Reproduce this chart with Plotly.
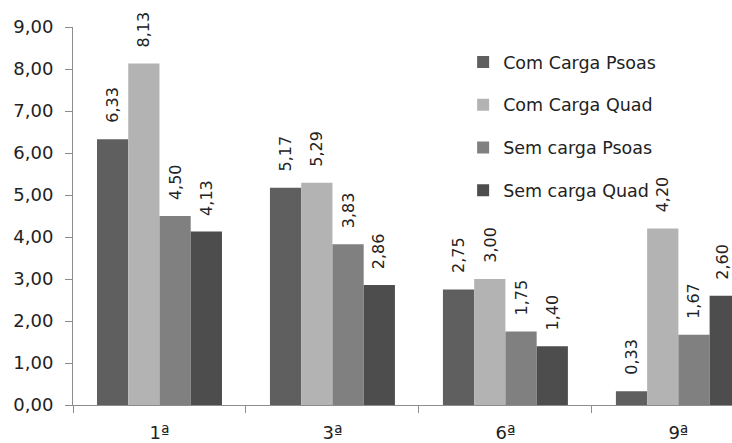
import plotly.graph_objects as go

# Sessions on the x axis and the four measured series
sessions = ["1ª", "3ª", "6ª", "9ª"]
series_names = ["Com Carga Psoas", "Com Carga Quad", "Sem carga Psoas", "Sem carga Quad"]
com_carga_psoas = [6.33, 5.17, 2.75, 0.33]
com_carga_quad = [8.13, 5.29, 3.00, 4.20]
sem_carga_psoas = [4.50, 3.83, 1.75, 1.67]
sem_carga_quad = [4.13, 2.86, 1.40, 2.60]
y_ticks = [0, 1, 2, 3, 4, 5, 6, 7, 8, 9]

series_values = [com_carga_psoas, com_carga_quad, sem_carga_psoas, sem_carga_quad]
colors = ["#5f5f5f", "#b3b3b3", "#808080", "#4d4d4d"]

FONT = "DejaVu Sans"
TEXT = "#222222"
AXIS = "#8c8c8c"

W, H = 732, 443
ML, MR, MT, MB = 73, 0, 27, 38
X_RANGE = [-0.5, 3.31]
BARGAP = 0.2775
LABEL_HALF = 9  # half thickness of a rotated value label, px

fig = go.Figure()
for i, (name, vals, col) in enumerate(zip(series_names, series_values, colors)):
    fig.add_trace(go.Bar(
        x=sessions, y=vals, name=name, legendgroup=name,
        marker=dict(color=col, line=dict(width=0)),
        hoverinfo="skip",
    ))

# value labels, rotated and centered on each bar (kept inside the page)
cat_px = (W - ML - MR) / (X_RANGE[1] - X_RANGE[0])
bar_px = cat_px * (1 - BARGAP) / len(series_values)
annotations = []
for i, vals in enumerate(series_values):
    dx = (i - (len(series_values) - 1) / 2) * bar_px
    for j, (s, v) in enumerate(zip(sessions, vals)):
        center = ML + (j - X_RANGE[0]) * cat_px
        shift = min(dx, W - LABEL_HALF - center)
        annotations.append(dict(
            x=s, y=v, xref="x", yref="y",
            text=f"{v:.2f}".replace(".", ","),
            textangle=-90, showarrow=False,
            xanchor="center", yanchor="bottom",
            xshift=shift, yshift=14,
            font=dict(family=FONT, size=16, color=TEXT),
        ))

fig.update_layout(
    width=W, height=H,
    margin=dict(l=ML, r=MR, t=MT, b=MB, pad=0),
    paper_bgcolor="white", plot_bgcolor="white",
    barmode="group", bargap=BARGAP, bargroupgap=0,
    separators=",.",
    font=dict(family=FONT, size=18, color=TEXT),
    showlegend=True,
    legend=dict(
        x=0.592, y=0.955, xanchor="left", yanchor="top",
        bgcolor="rgba(0,0,0,0)", borderwidth=0,
        traceorder="grouped", tracegroupgap=17,
        font=dict(family=FONT, size=17.5, color=TEXT),
        itemclick=False, itemdoubleclick=False,
    ),
    annotations=annotations,
)

fig.update_xaxes(
    type="category", range=X_RANGE,
    showline=True, linecolor=AXIS, linewidth=1,
    ticks="outside", tickson="boundaries", ticklen=7, tickcolor=AXIS,
    showgrid=False, zeroline=False,
    tickfont=dict(family=FONT, size=18, color=TEXT),
    ticklabelstandoff=11,
)
fig.update_yaxes(
    range=[0, 9], tickvals=y_ticks, tickformat=".2f",
    showline=True, linecolor=AXIS, linewidth=1,
    ticks="outside", ticklen=7, tickcolor=AXIS,
    showgrid=False, zeroline=False,
    tickfont=dict(family=FONT, size=18, color=TEXT),
    ticklabelstandoff=8,
)

fig.write_html("out.html")
